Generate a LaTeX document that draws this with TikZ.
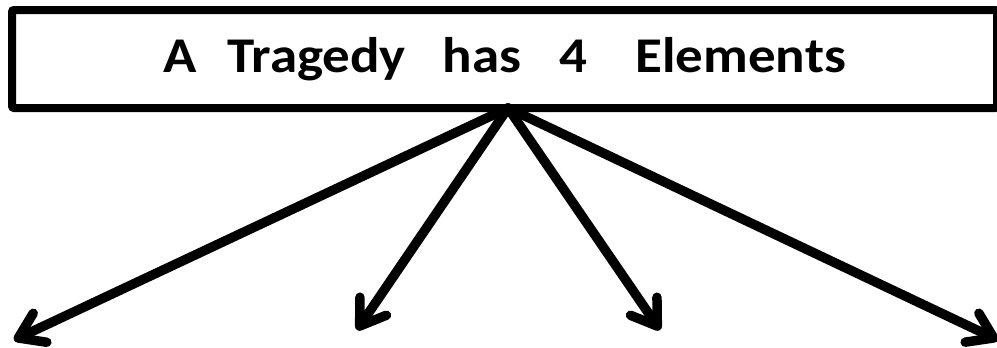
\documentclass[tikz,border=0pt]{standalone}
\usepackage{fontspec}
\setmainfont{Carlito}
\newfontfamily\titlefont[FakeStretch=1.1]{Carlito}
\usetikzlibrary{arrows.meta, positioning}
\tikzset{
  x=1pt, y=-1pt,
  titlebox/.style={draw, line width=8pt, rounded corners=2pt,
    minimum width=985pt, minimum height=98pt, inner sep=0pt,
    font=\titlefont\bfseries\fontsize{50}{60}\selectfont},
  pointer/.style={line width=9.5pt, line cap=round,
    -{Straight Barb[length=24pt, width=32pt, round]}},
}

\begin{document}
\begin{tikzpicture}
  \useasboundingbox (0,0) rectangle (997,348);

  % box
  \node[titlebox] (title) at (504.5,59)
    {A\hspace{31pt}Tragedy\hspace{37pt}has\hspace{38pt}4\hspace{48pt}Elements};

  % ends of the arrows
  \coordinate (apex) at (508,108);
  \coordinate (e1) at (14,340);
  \coordinate (e2) at (357,330);
  \coordinate (e3) at (660,330);
  \coordinate (e4) at (998,340);

  % arrows
  \foreach \e in {e1,e2,e3,e4}
    \draw[pointer] (apex) -- (\e);

\end{tikzpicture}
\end{document}
